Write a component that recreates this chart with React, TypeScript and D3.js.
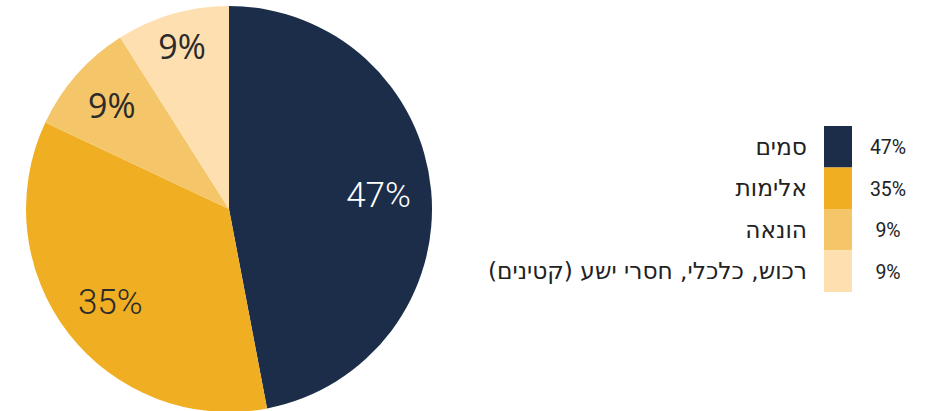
import React from "react";
import * as d3 from "d3";

const categories = ["סמים", "אלימות", "הונאה", "רכוש, כלכלי, חסרי ישע (קטינים)"];
const values = [47, 35, 9, 9];
const colors = ["#1b2d48", "#f0ae22", "#f5c56a", "#fddfb0"];
const labelColors = ["#ffffff", "#2b2b2b", "#2b2b2b", "#2b2b2b"];

const W = 932;
const H = 411;
// layout: label radius as fraction of pie radius per slice
const labelRadiusFrac = [0.74, 0.74, 0.77, 0.83];

export default function App() {
  const cx = 229;
  const cy = 209;
  const R = 203;
  const pie = d3.pie<number>().sort(null).value((d) => d)(values);
  const arc = d3.arc<d3.PieArcDatum<number>>().innerRadius(0).outerRadius(R);
  const total = d3.sum(values);

  const legendX = 824;
  const legendTop = 126;
  const rowH = 41.5;
  const y = d3.scaleBand<number>().domain(values.map((_, i) => i)).range([legendTop, legendTop + rowH * values.length]).padding(0);

  return (
    <svg width={W} height={H} style={{ position: "absolute", left: 0, top: 0, background: "#fff" }}>
      <g transform={`translate(${cx},${cy})`}>
        {pie.map((p, i) => (
          <path key={i} d={arc(p) || ""} fill={colors[i]} />
        ))}
        {pie.map((p, i) => {
          const small = p.value / total < 0.15;
          const lr = R * labelRadiusFrac[i];
          const c = d3.arc<d3.PieArcDatum<number>>().innerRadius(lr).outerRadius(lr).centroid(p);
          return (
            <text
              key={i}
              x={c[0]}
              y={c[1]}
              dy="0.36em"
              textAnchor="middle"
              fill={labelColors[i]}
              style={{
                fontFamily: small ? "'Open Sans', sans-serif" : "Roboto, sans-serif",
                fontWeight: small ? 400 : 300,
                fontSize: small ? 34 : 35,
              }}
            >
              {`${p.value}%`}
            </text>
          );
        })}
      </g>
      <g>
        {values.map((v, i) => (
          <g key={i}>
            <rect x={legendX} y={y(i)} width={28} height={y.bandwidth()} fill={colors[i]} />
            <text
              x={807}
              y={(y(i) as number) + y.bandwidth() / 2 + 8}
              textAnchor="start"
              direction="rtl"
              fill="#222"
              style={{ fontFamily: "'DejaVu Sans', sans-serif", fontSize: 23.3, direction: "rtl", unicodeBidi: "embed" }}
            >
              {categories[i]}
            </text>
            <text
              x={888}
              y={(y(i) as number) + y.bandwidth() / 2 + 7.5}
              textAnchor="middle"
              fill="#222"
              style={{ fontFamily: "Roboto, sans-serif", fontSize: 19.5 }}
            >
              {`${v}%`}
            </text>
          </g>
        ))}
      </g>
    </svg>
  );
}
